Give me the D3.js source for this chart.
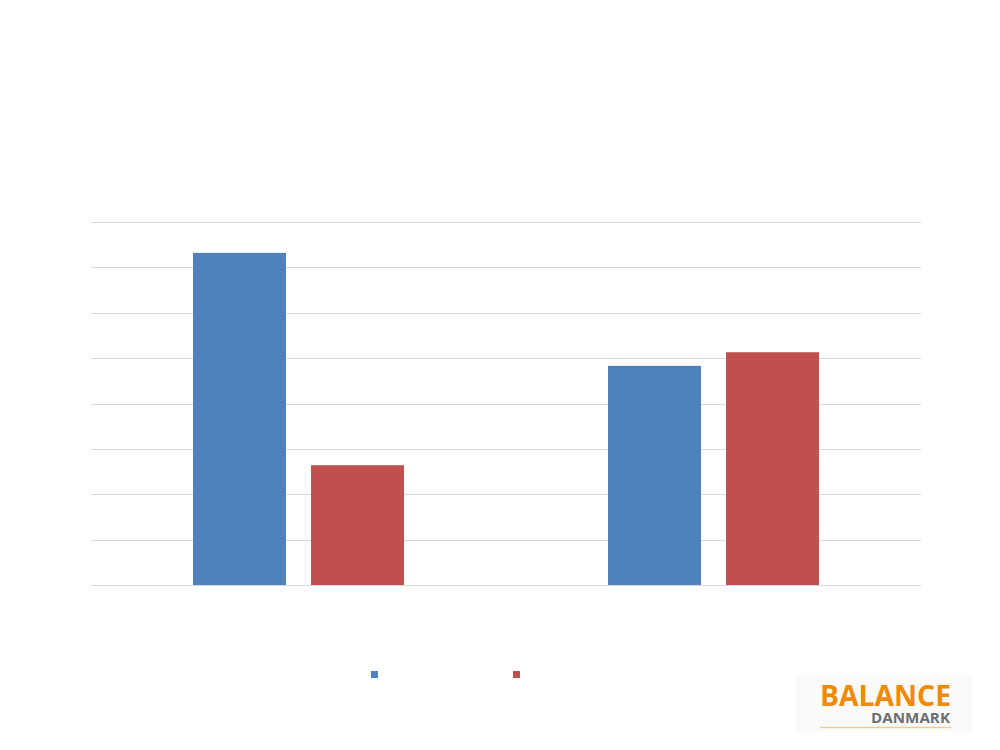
<!DOCTYPE html>
<html>
<head>
<meta charset="utf-8">
<script src="https://cdn.jsdelivr.net/npm/d3@7"></script>
<style>
html,body{margin:0;padding:0;background:#fff;}
svg{display:block;font-family:"Open Sans","Noto Sans",sans-serif;}
</style>
</head>
<body>
<svg id="chart" width="1000" height="750"></svg>
<script>
const categories = ["Kategori 1", "Kategori 2"];
const seriesNames = ["Serie 1", "Serie 2"];
const series1 = [7.32, 4.83];
const series2 = [2.64, 5.13];
const tickValues = [0, 1, 2, 3, 4, 5, 6, 7, 8];
const colors = ["#4F81BD", "#C0504D"];

const svg = d3.select("#chart");
const margin = {left: 91, right: 79, top: 222, bottom: 165};
const W = 1000, H = 750;

const x0 = d3.scaleBand().domain(categories).range([margin.left, W - margin.right]).paddingInner(0).paddingOuter(0);
const x1 = d3.scaleBand().domain(seriesNames).range([0, 211]).paddingInner(25/118).paddingOuter(0);
const y = d3.scaleLinear().domain([0, 8]).range([H - margin.bottom, margin.top]);

// gridlines
const grid = d3.axisLeft(y).tickValues(tickValues).tickSize(-(W - margin.left - margin.right)).tickFormat("");
const gg = svg.append("g").attr("transform", `translate(${margin.left},0)`).call(grid);
gg.select(".domain").remove();
gg.selectAll(".tick line").attr("stroke", "#D9D9D9").attr("stroke-width", 1).attr("shape-rendering", "crispEdges");

const data = categories.map((c, i) => ({cat: c, vals: [series1[i], series2[i]]}));
const groups = svg.append("g").selectAll("g").data(data).join("g")
  .attr("transform", d => `translate(${x0(d.cat) + (x0.bandwidth() - 211) / 2},0)`);
groups.selectAll("rect").data(d => d.vals.map((v, j) => ({name: seriesNames[j], v, j})))
  .join("rect")
  .attr("x", d => x1(d.name))
  .attr("width", x1.bandwidth())
  .attr("y", d => y(d.v))
  .attr("height", d => y(0) - y(d.v))
  .attr("fill", d => colors[d.j]);

// baseline
svg.append("line").attr("x1", margin.left).attr("x2", W - margin.right)
  .attr("y1", y(0) + 0.5).attr("y2", y(0) + 0.5).attr("stroke", "#D9D9D9").attr("stroke-width", 1);

// legend markers
const legX = [371, 513];
svg.append("g").selectAll("rect").data(seriesNames).join("rect")
  .attr("x", (d, i) => legX[i]).attr("y", 671).attr("width", 7).attr("height", 7)
  .attr("fill", (d, i) => colors[i]);

// logo
const logo = svg.append("g");
logo.append("rect").attr("x", 796).attr("y", 675).attr("width", 176).attr("height", 57).attr("fill", "#FAFAFA");
logo.append("text").attr("x", 951).attr("y", 706).attr("text-anchor", "end")
  .attr("font-family", "Open Sans, sans-serif").attr("font-weight", 700).attr("font-size", 29)
  .attr("fill", "#F08A00").attr("textLength", 131).attr("lengthAdjust", "spacingAndGlyphs").text("BALANCE");
logo.append("text").attr("x", 950).attr("y", 723).attr("text-anchor", "end")
  .attr("font-family", "Open Sans, sans-serif").attr("font-weight", 700).attr("font-size", 14)
  .attr("fill", "#6D6E71").attr("textLength", 79).attr("lengthAdjust", "spacingAndGlyphs").text("DANMARK");
logo.append("line").attr("x1", 820).attr("x2", 951).attr("y1", 727.5).attr("y2", 727.5)
  .attr("stroke", "#F9C98A").attr("stroke-width", 1.5);
</script>
</body>
</html>
